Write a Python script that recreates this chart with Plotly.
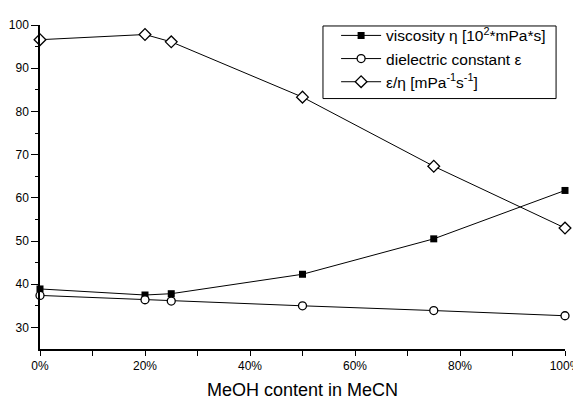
import plotly.graph_objects as go

meoh_fraction = [0.0, 0.20, 0.25, 0.50, 0.75, 1.00]
viscosity = [38.9, 37.5, 37.8, 42.3, 50.5, 61.7]
dielectric = [37.4, 36.4, 36.1, 35.0, 33.9, 32.7]
ratio = [96.6, 97.8, 96.1, 83.3, 67.3, 53.0]

x_ticks = [0, 0.2, 0.4, 0.6, 0.8, 1.0]
x_minor = [0.1, 0.3, 0.5, 0.7, 0.9]
y_ticks = [30, 40, 50, 60, 70, 80, 90, 100]
y_minor = [35, 45, 55, 65, 75, 85, 95]

names = [
    "viscosity η [10<sup>2</sup>*mPa*s]",
    "dielectric constant ε",
    "ε/η [mPa<sup>-1</sup>s<sup>-1</sup>]",
]

fig = go.Figure()
fig.add_trace(go.Scatter(
    x=meoh_fraction, y=viscosity, name=names[0], mode="lines+markers",
    line=dict(color="black", width=1),
    marker=dict(symbol="square", size=7, color="black"),
    cliponaxis=False, legendgroup="a",
))
fig.add_trace(go.Scatter(
    x=meoh_fraction, y=dielectric, name=names[1], mode="lines+markers",
    line=dict(color="black", width=1),
    marker=dict(symbol="circle", size=8, color="white", line=dict(color="black", width=1.3)),
    cliponaxis=False, legendgroup="b",
))
fig.add_trace(go.Scatter(
    x=meoh_fraction, y=ratio, name=names[2], mode="lines+markers",
    line=dict(color="black", width=1),
    marker=dict(symbol="diamond", size=9, color="white", line=dict(color="black", width=1.3)),
    cliponaxis=False, legendgroup="c",
))

# page body has an 8px margin: figure is 573x392 so plot area lands at x 40-565, y 19-349
fig.add_shape(type="rect", xref="paper", yref="paper",
              x0=0.539, x1=0.983, y0=0.773, y1=0.997,
              line=dict(color="black", width=1), fillcolor="white", layer="below")

fig.update_layout(
    width=573, height=392,
    margin=dict(l=32, r=16, t=11, b=51),
    paper_bgcolor="white", plot_bgcolor="white",
    font=dict(family="Liberation Sans, Arial, sans-serif", size=12, color="black"),
    showlegend=True,
    legend=dict(
        x=0.564, y=1.019, xanchor="left", yanchor="top",
        bgcolor="rgba(0,0,0,0)", borderwidth=0,
        font=dict(size=15.5), tracegroupgap=0, itemwidth=40,
    ),
    xaxis=dict(
        range=[0, 1], tickformat=".0%", tickvals=x_ticks, automargin=False,
        showgrid=False, zeroline=False, showline=True, linecolor="black", linewidth=1.5,
        ticks="outside", ticklen=5, tickwidth=1.2, tickcolor="black",
        minor=dict(tickvals=x_minor, ticks="outside", ticklen=5, tickwidth=1.2, tickcolor="black"),
        title=dict(text="MeOH content in MeCN", font=dict(size=18), standoff=14),
        tickfont=dict(size=12),
    ),
    yaxis=dict(
        range=[25, 100], tickvals=y_ticks, automargin=False,
        showgrid=False, zeroline=False, showline=True, linecolor="black", linewidth=1.5,
        ticks="outside", ticklen=7, tickwidth=1.2, tickcolor="black",
        minor=dict(tickvals=y_minor, ticks="outside", ticklen=3, tickwidth=1.2, tickcolor="black"),
        tickfont=dict(size=12),
    ),
)

fig.write_html("out.html")
